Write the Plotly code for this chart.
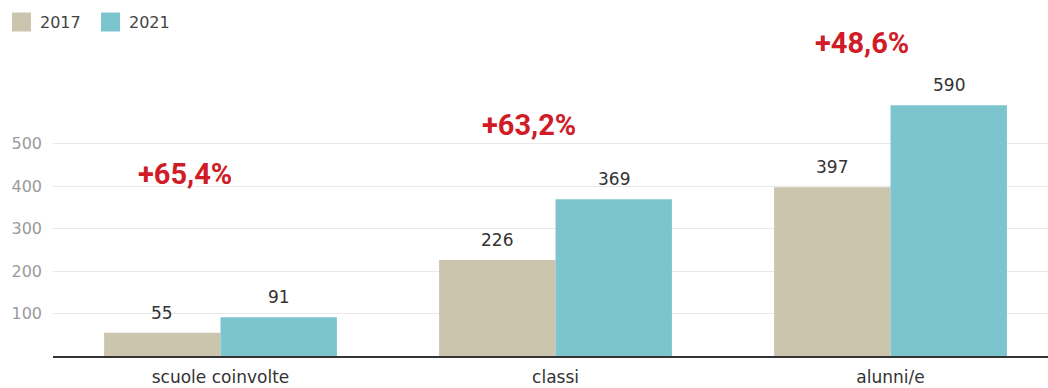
import plotly.graph_objects as go

# Data
categories = ["scuole coinvolte", "classi", "alunni/e"]
series_names = ["2017", "2021"]
values_2017 = [55, 226, 397]
values_2021 = [91, 369, 590]
growth_labels = ["+65,4%", "+63,2%", "+48,6%"]
y_tick_values = [100, 200, 300, 400, 500]

# Styling / placement
W, H = 1048, 388
colors = ["#cbc5ad", "#7cc5cf"]
growth_y = [428, 543, 736]      # vertical placement of the growth labels (data units)
growth_dx = [-0.105, -0.08, -0.085]
bargap = 0.305
label_font = "DejaVu Sans, Arial, sans-serif"
growth_font = "Roboto, Arial, sans-serif"
plot_left = 53
plot_bottom = 32
px_per_unit = 0.425

fig = go.Figure()
for name, vals, col in zip(series_names, [values_2017, values_2021], colors):
    fig.add_trace(go.Bar(
        x=categories, y=vals, name=name,
        marker=dict(color=col, line=dict(width=0)),
        hoverinfo="skip", showlegend=False,
    ))

# value labels above each bar
half = (1 - bargap) / 4
for j, vals in enumerate([values_2017, values_2021]):
    off = -half if j == 0 else half
    for i, v in enumerate(vals):
        fig.add_annotation(
            x=i + off, y=v, xref="x", yref="y",
            text=str(v), showarrow=False, yshift=20,
            font=dict(family=label_font, size=17, color="#333333"),
        )

# growth labels
for i, (lab, gy, dx) in enumerate(zip(growth_labels, growth_y, growth_dx)):
    fig.add_annotation(
        x=i + dx, y=gy, xref="x", yref="y",
        text=f"<b>{lab}</b>", showarrow=False,
        font=dict(family=growth_font, size=29, color="#d01c27"),
    )

# legend drawn as swatches + text at the top left
legend_x = [12, 101]
legend_size = 19
legend_cy = 22
plot_h = H - plot_bottom
for name, col, lx in zip(series_names, colors, legend_x):
    fig.add_shape(
        type="rect", xref="paper", yref="paper",
        x0=lx / W, x1=(lx + legend_size) / W,
        y0=(plot_h - legend_cy - legend_size / 2) / plot_h,
        y1=(plot_h - legend_cy + legend_size / 2) / plot_h,
        fillcolor=col, line=dict(width=0),
    )
    fig.add_annotation(
        x=(lx + legend_size + 7) / W, y=(plot_h - legend_cy) / plot_h,
        xref="paper", yref="paper", xanchor="left", yanchor="middle",
        text=name, showarrow=False,
        font=dict(family=label_font, size=16, color="#444444"),
    )

fig.update_layout(
    width=W, height=H,
    margin=dict(l=0, r=0, t=0, b=plot_bottom),
    paper_bgcolor="white", plot_bgcolor="white",
    barmode="group", bargap=bargap, bargroupgap=0,
    font=dict(family=label_font, color="#333333"),
    showlegend=False,
    xaxis=dict(
        type="category", range=[-0.5, 2.47],
        domain=[plot_left / W, 1],
        showline=True, linecolor="#333333", linewidth=1.5,
        ticks="", showgrid=False,
        tickfont=dict(size=17, color="#333333"),
        ticklabelstandoff=5,
    ),
    yaxis=dict(
        range=[0, plot_h / px_per_unit], tickvals=y_tick_values,
        showgrid=True, gridcolor="#e8e8e8", gridwidth=1,
        zeroline=False, showline=False, ticks="",
        tickfont=dict(size=16, color="#9a9a9a"),
        ticklabelstandoff=10,
    ),
)

fig.write_html("out.html")
